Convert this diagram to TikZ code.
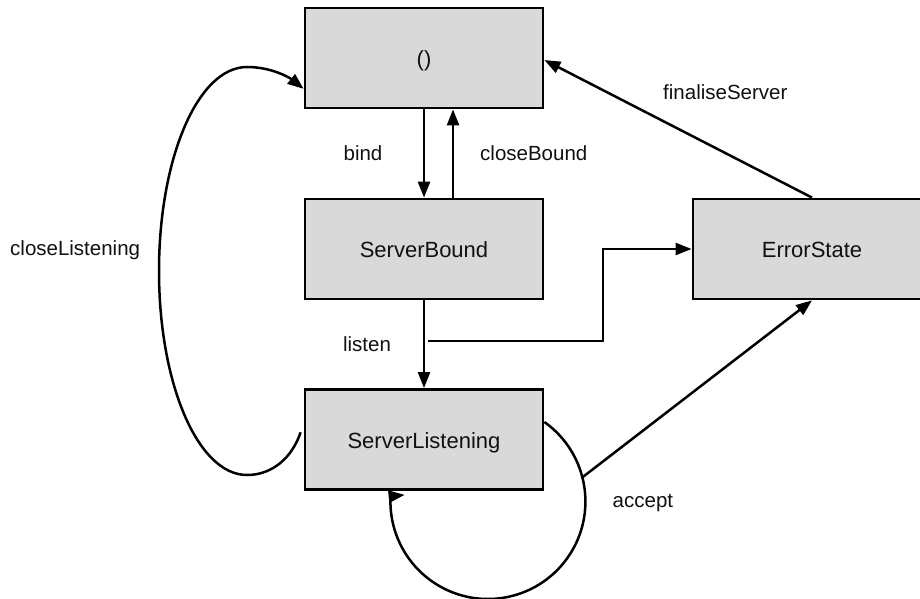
\documentclass[tikz,border=0pt]{standalone}
\usepackage{fontspec}
\setmainfont{Liberation Sans}
\usetikzlibrary{arrows.meta,calc}
\definecolor{boxfill}{HTML}{D9D9D9}
\definecolor{ink}{HTML}{111111}
\tikzset{
  state/.style={draw=black, line width=2.8pt, fill=boxfill, minimum width=238pt, minimum height=100pt, inner sep=0pt, text height=17.4pt, text depth=0pt, font=\fontsize{22pt}{24pt}\selectfont, text=ink},
  lbl/.style={inner sep=0pt, font=\fontsize{20.5pt}{22pt}\selectfont, text=ink},
  conn/.style={line width=2.5pt, draw=black},
  arr/.style={conn, -{Triangle[length=16pt,width=12pt]}}
}
\begin{document}
\begin{tikzpicture}[x=1pt,y=-1pt]
\clip (0,0) rectangle (920,599);
\fill[white] (0,0) rectangle (920,599);
\node[state] (top) at (424,58) {()};
\node[state] (sb) at (424,249) {ServerBound};
\node[state] (sl) at (424,439.5) {ServerListening};
\node[state] (es) at (812,249) {ErrorState};
% bind / closeBound
\draw[arr] (top.south) -- (sb.north);
\draw[arr] ($(sb.north)+(29,0)$) -- ($(top.south)+(29,0)$);
% listen
\draw[arr] (sb.south) -- (sl.north);
% error from ServerBound
\coordinate (lj) at (428,341);
\draw[arr] (lj) -- ++(175,0) |- (es.west);
% finaliseServer
\draw[arr] (es.north) -- ($(top.north east)!0.52!(top.south east)$);
% closeListening
\draw[arr] ($(sl.north west)!0.43!(sl.south west)+(-3,0)$) .. controls (292,458) and (272,475) .. (247,475)
  .. controls (198,475) and (159,384) .. (159,271)
  .. controls (159,158) and (198,67) .. (247,67)
  .. controls (272,67) and (290,78) .. ($(top.north west)!0.8!(top.south west)$);
% accept loop
\draw[arr] ($(sl.north east)!0.33!(sl.south east)$) arc[start angle=-54.6, end angle=183, radius=97.5] -- ($(sl.south west)+(101,4)$);
\coordinate (acc) at (581.5,478);
\draw[arr] (acc) -- (es.south);
% labels
\node[lbl, anchor=base] (lbind) at (363,160) {bind};
\node[lbl, anchor=base west] (lclose) at (480,160) {closeBound};
\node[lbl, anchor=base] (llisten) at (367,351) {listen};
\node[lbl, anchor=base west] (lcl) at (10,255) {closeListening};
\node[lbl, anchor=base west] (lfin) at (663,100) {finaliseServer};
\node[lbl, anchor=base west] (lacc) at (612.5,507.5) {accept};
\end{tikzpicture}
\end{document}
